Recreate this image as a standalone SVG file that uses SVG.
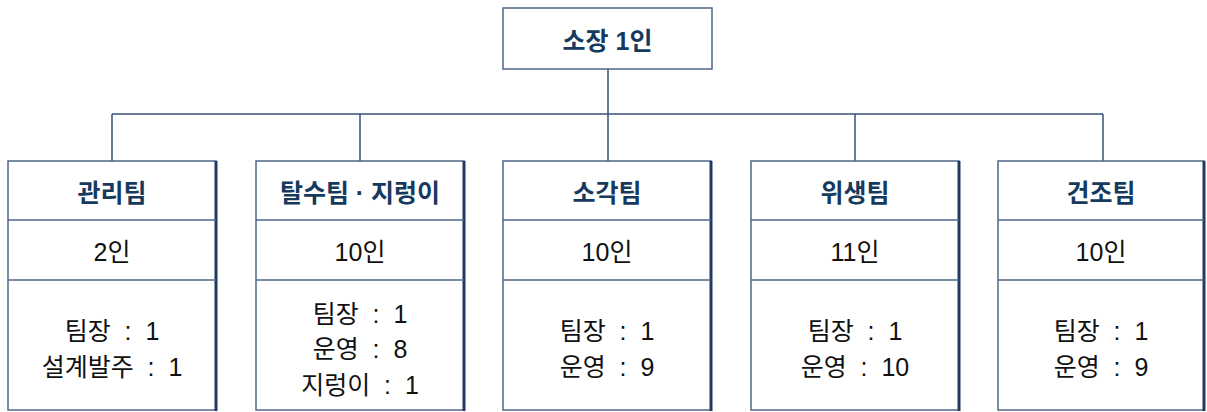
<svg xmlns="http://www.w3.org/2000/svg" width="1207" height="412" viewBox="0 0 1207 412">
<style>
.box{fill:#fff;stroke:#4f6688;stroke-width:1.5}
.edge{stroke:#1f3a5f;stroke-width:3}
.div{stroke:#4f6688;stroke-width:1.5}
.con{stroke:#3a5275;stroke-width:1.5;fill:none}
.t{font-family:"Liberation Sans","Noto Sans CJK KR",sans-serif;font-size:25px;text-anchor:middle;dominant-baseline:central;white-space:pre}
.h{fill:#163a5e;font-weight:bold}
.b{fill:#111}
</style>
<rect width="1207" height="412" fill="#fff"/>
<g id="connectors">
<path class="con" d="M608 69V114M112 114H1103M112 114V161M360 114V161M608 114V161M855 114V161M1103 114V161"/>
</g>
<g id="director">
<rect class="box" x="503" y="8" width="209" height="61"/>
<text class="t h" x="607.5" y="41">소장 1인</text>
</g>
<g id="team1">
<rect class="box" x="8" y="161" width="208" height="249"/>
<line class="edge" x1="216" y1="161" x2="216" y2="411"/>
<line class="div" x1="8" y1="220" x2="216" y2="220"/>
<line class="div" x1="8" y1="280" x2="216" y2="280"/>
<text class="t h" x="112" y="193">관리팀</text>
<text class="t b" x="112" y="252">2인</text>
<text class="t b" x="112" y="331">팀장  :  1</text>
<text class="t b" x="112" y="367">설계발주  :  1</text>
</g>
<g id="team2">
<rect class="box" x="256" y="161" width="208" height="249"/>
<line class="edge" x1="464" y1="161" x2="464" y2="411"/>
<line class="div" x1="256" y1="220" x2="464" y2="220"/>
<line class="div" x1="256" y1="280" x2="464" y2="280"/>
<text class="t h" x="360" y="193">탈수팀 · 지렁이</text>
<text class="t b" x="360" y="252">10인</text>
<text class="t b" x="360" y="314">팀장  :  1</text>
<text class="t b" x="360" y="349">운영  :  8</text>
<text class="t b" x="360" y="385">지렁이  :  1</text>
</g>
<g id="team3">
<rect class="box" x="503" y="161" width="208" height="249"/>
<line class="edge" x1="711" y1="161" x2="711" y2="411"/>
<line class="div" x1="503" y1="220" x2="711" y2="220"/>
<line class="div" x1="503" y1="280" x2="711" y2="280"/>
<text class="t h" x="607" y="193">소각팀</text>
<text class="t b" x="607" y="252">10인</text>
<text class="t b" x="607" y="331">팀장  :  1</text>
<text class="t b" x="607" y="367">운영  :  9</text>
</g>
<g id="team4">
<rect class="box" x="751" y="161" width="208" height="249"/>
<line class="edge" x1="959" y1="161" x2="959" y2="411"/>
<line class="div" x1="751" y1="220" x2="959" y2="220"/>
<line class="div" x1="751" y1="280" x2="959" y2="280"/>
<text class="t h" x="855" y="193">위생팀</text>
<text class="t b" x="855" y="252">11인</text>
<text class="t b" x="855" y="331">팀장  :  1</text>
<text class="t b" x="855" y="367">운영  :  10</text>
</g>
<g id="team5">
<rect class="box" x="998" y="161" width="206" height="249"/>
<line class="edge" x1="1204" y1="161" x2="1204" y2="411"/>
<line class="div" x1="998" y1="220" x2="1204" y2="220"/>
<line class="div" x1="998" y1="280" x2="1204" y2="280"/>
<text class="t h" x="1101" y="193">건조팀</text>
<text class="t b" x="1101" y="252">10인</text>
<text class="t b" x="1101" y="331">팀장  :  1</text>
<text class="t b" x="1101" y="367">운영  :  9</text>
</g>
</svg>
